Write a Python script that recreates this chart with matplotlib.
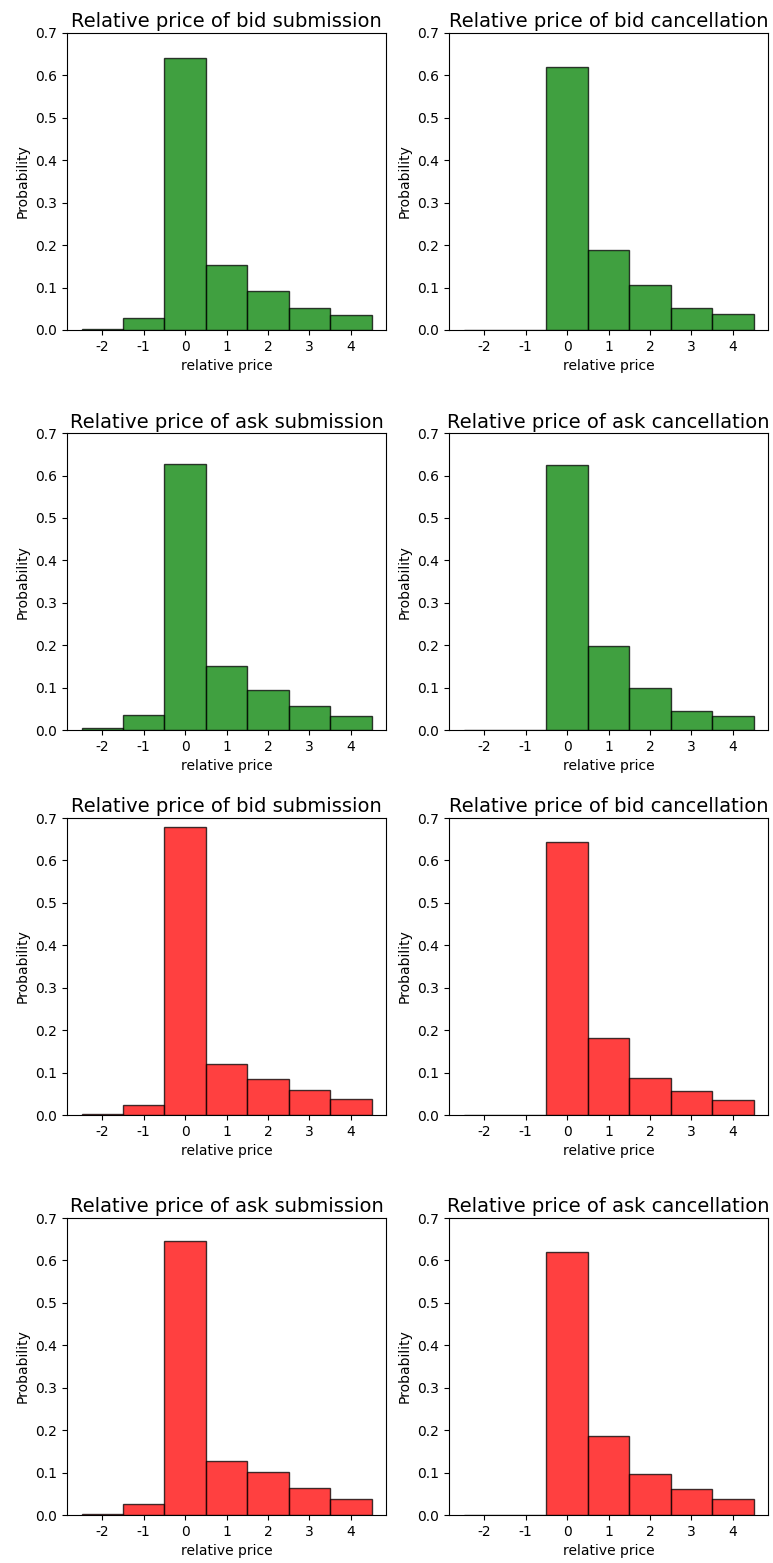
import matplotlib
matplotlib.use('Agg')
from matplotlib import pyplot as plt
import numpy as np

# relative price levels (bin centres)
rel_price = [-2, -1, 0, 1, 2, 3, 4]

titles = ['Relative price of bid submission', 'Relative price of bid cancellation',
          'Relative price of ask submission', 'Relative price of ask cancellation',
          'Relative price of bid submission', 'Relative price of bid cancellation',
          'Relative price of ask submission', 'Relative price of ask cancellation']

# probabilities
green_bid_sub = [0.0024, 0.0275, 0.640, 0.154, 0.092, 0.052, 0.036]
green_bid_can = [0.0005, 0.0, 0.619, 0.188, 0.107, 0.052, 0.038]
green_ask_sub = [0.004, 0.035, 0.626, 0.152, 0.094, 0.057, 0.033]
green_ask_can = [0.0005, 0.0, 0.624, 0.197, 0.100, 0.046, 0.033]
red_bid_sub = [0.002, 0.024, 0.679, 0.121, 0.085, 0.059, 0.037]
red_bid_can = [0.0005, 0.0, 0.644, 0.181, 0.088, 0.057, 0.035]
red_ask_sub = [0.002, 0.026, 0.645, 0.127, 0.1015, 0.063, 0.038]
red_ask_can = [0.0005, 0.0, 0.619, 0.187, 0.097, 0.061, 0.038]

series = [green_bid_sub, green_bid_can, green_ask_sub, green_ask_can,
          red_bid_sub, red_bid_can, red_ask_sub, red_ask_can]
colors = ['green'] * 4 + ['red'] * 4

fig = plt.figure(figsize=(7.73, 15.63), dpi=100)

lefts = [0.0867, 0.5809]
bottoms = [0.7889, 0.5329, 0.2866, 0.0307]
w, h = 0.4127, 0.19002

for i, (vals, col, title) in enumerate(zip(series, colors, titles)):
    ax = fig.add_axes([lefts[i % 2], bottoms[i // 2], w, h])
    ax.bar(rel_price, vals, width=1.0, color=col, alpha=0.75,
           edgecolor='black', linewidth=1.0)
    ax.set_xlim(-2.85, 4.85)
    ax.set_ylim(0, 0.7)
    ax.set_xticks(rel_price)
    ax.set_xticklabels([str(p) for p in rel_price])
    ax.set_yticks(np.arange(0, 0.71, 0.1))
    ax.set_title(title, fontsize=14, pad=4)
    ax.set_xlabel('relative price')
    ax.set_ylabel('Probability')

fig.savefig('out.png', dpi=100)
